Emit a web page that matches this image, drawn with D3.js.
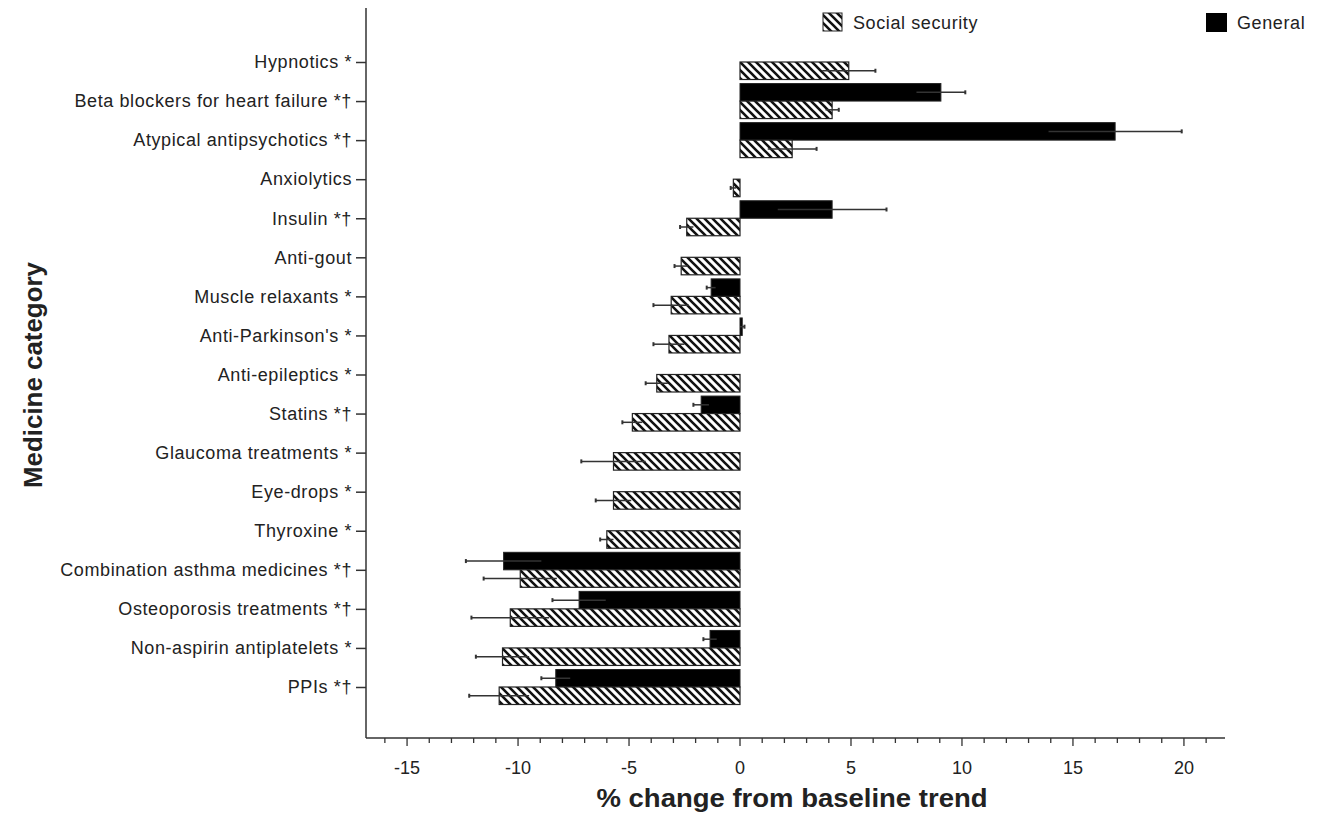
<!DOCTYPE html>
<html>
<head>
<meta charset="utf-8">
<script src="https://cdn.jsdelivr.net/npm/d3@7"></script>
<style>
  body { margin: 0; background: #fff; }
  text { font-family: Arial, "Liberation Sans", sans-serif; fill: #222; }
</style>
</head>
<body>
<div id="chart"></div>
<script>
var categories = [
  "Hypnotics *", "Beta blockers for heart failure *\u2020", "Atypical antipsychotics *\u2020",
  "Anxiolytics", "Insulin *\u2020", "Anti-gout", "Muscle relaxants *", "Anti-Parkinson's *",
  "Anti-epileptics *", "Statins *\u2020", "Glaucoma treatments *", "Eye-drops *", "Thyroxine *",
  "Combination asthma medicines *\u2020", "Osteoporosis treatments *\u2020",
  "Non-aspirin antiplatelets *", "PPIs *\u2020"
];
// general population (null = not shown)
var generalValues = [null, 9.05, 16.9, null, 4.15, null, -1.3, 0.1, null, -1.75, null, null, null, -10.65, -7.25, -1.35, -8.3];
var generalErrors = [null, 1.1, 3.0, null, 2.45, null, 0.2, 0.1, null, 0.35, null, null, null, 1.7, 1.2, 0.3, 0.65];
// social security
var socialValues = [4.9, 4.15, 2.35, -0.3, -2.4, -2.65, -3.1, -3.2, -3.75, -4.85, -5.7, -5.7, -6.0, -9.9, -10.35, -10.7, -10.85];
var socialErrors = [1.2, 0.3, 1.1, 0.12, 0.3, 0.3, 0.8, 0.7, 0.5, 0.45, 1.45, 0.8, 0.3, 1.65, 1.75, 1.2, 1.35];
var xTicks = [-15, -10, -5, 0, 5, 10, 15, 20];

var svgWidth = 1332;
var svgHeight = 813;
var margin = { top: 8, left: 366 };
var width = 859;
var height = 730;
var barH = 17.5;

var svg = d3.select("#chart")
  .append("svg")
  .attr("width", svgWidth)
  .attr("height", svgHeight);

// hatch pattern
var defs = svg.append("defs");
defs.append("pattern")
  .attr("id", "hatch")
  .attr("patternUnits", "userSpaceOnUse")
  .attr("width", 8)
  .attr("height", 8)
  .call(p => {
    p.append("rect").attr("width", 8).attr("height", 8).attr("fill", "#fff");
    p.append("path")
      .attr("d", "M-2,-2 L10,10 M-2,6 L2,10 M6,-2 L10,2")
      .attr("stroke", "#111")
      .attr("stroke-width", 2.6);
  });

var chartGroup = svg.append("g")
  .attr("transform", `translate(${margin.left}, ${margin.top})`);

var x = d3.scaleLinear()
  .domain([-16.85, 21.85])
  .range([0, width]);

var y = d3.scalePoint()
  .domain(categories)
  .range([54, 679]);

// x axis: major + minor ticks
var xAxisG = chartGroup.append("g")
  .attr("transform", `translate(0, ${height})`);
xAxisG.append("line")
  .attr("x1", 0).attr("x2", width)
  .attr("stroke", "#333").attr("stroke-width", 1.5);
xAxisG.selectAll(".minor")
  .data(d3.range(-16, 22))
  .enter().append("line")
  .attr("x1", d => x(d)).attr("x2", d => x(d))
  .attr("y1", 0).attr("y2", d => d % 5 === 0 ? 8 : 5)
  .attr("stroke", "#333").attr("stroke-width", 1.3);
xAxisG.selectAll(".lbl")
  .data(xTicks)
  .enter().append("text")
  .attr("x", d => x(d))
  .attr("y", 36)
  .attr("text-anchor", "middle")
  .style("font-size", "18px")
  .text(d => d);

// y axis
var yAxis = d3.axisLeft(y).tickSize(10).tickPadding(4);
var yAxisG = chartGroup.append("g").call(yAxis);
yAxisG.select(".domain").remove();
yAxisG.selectAll("line").attr("stroke", "#333").attr("stroke-width", 1.5);
yAxisG.selectAll("text")
  .style("font-size", "18px")
  .style("letter-spacing", "0.6px")
  .style("fill", "#222");
chartGroup.append("line")
  .attr("x1", 0).attr("x2", 0)
  .attr("y1", 0).attr("y2", height)
  .attr("stroke", "#333").attr("stroke-width", 1.5);

// bars
var generalData = categories.map((c, i) => ({ c: c, v: generalValues[i], e: generalErrors[i] }))
  .filter(d => d.v !== null);
var socialData = categories.map((c, i) => ({ c: c, v: socialValues[i], e: socialErrors[i] }));

function drawErr(sel, off) {
  sel.append("line")
    .attr("x1", d => x(d.v - d.e)).attr("x2", d => x(d.v + d.e))
    .attr("y1", d => y(d.c) + off).attr("y2", d => y(d.c) + off)
    .attr("stroke", "#333").attr("stroke-width", 1.5);
  sel.append("line")
    .attr("x1", d => x(d.v + Math.sign(d.v) * d.e)).attr("x2", d => x(d.v + Math.sign(d.v) * d.e))
    .attr("y1", d => y(d.c) + off - 2).attr("y2", d => y(d.c) + off + 2)
    .attr("stroke", "#333").attr("stroke-width", 2);
}

var gGen = chartGroup.selectAll(".gen")
  .data(generalData)
  .enter().append("g");
gGen.append("rect")
  .attr("x", d => x(Math.min(0, d.v)))
  .attr("width", d => Math.abs(x(d.v) - x(0)))
  .attr("y", d => y(d.c) - barH)
  .attr("height", barH)
  .attr("fill", "#000")
  .attr("stroke", "#222").attr("stroke-width", 1);
drawErr(gGen, -barH / 2);

var gSoc = chartGroup.selectAll(".soc")
  .data(socialData)
  .enter().append("g");
gSoc.append("rect")
  .attr("x", d => x(Math.min(0, d.v)))
  .attr("width", d => Math.abs(x(d.v) - x(0)))
  .attr("y", d => y(d.c))
  .attr("height", barH)
  .attr("fill", "url(#hatch)")
  .attr("stroke", "#222").attr("stroke-width", 1.2);
drawErr(gSoc, barH / 2);

// axis titles
svg.append("text")
  .attr("x", 792)
  .attr("y", 807)
  .attr("text-anchor", "middle")
  .attr("textLength", 391)
  .attr("lengthAdjust", "spacingAndGlyphs")
  .style("font-size", "25px")
  .style("font-weight", "bold")
  .text("% change from baseline trend");

svg.append("text")
  .attr("transform", "translate(42, 375) rotate(-90)")
  .attr("text-anchor", "middle")
  .attr("textLength", 226)
  .attr("lengthAdjust", "spacingAndGlyphs")
  .style("font-size", "26px")
  .style("font-weight", "bold")
  .text("Medicine category");

// legend
var legend = svg.append("g");
legend.append("rect")
  .attr("x", 823).attr("y", 13).attr("width", 19).attr("height", 18)
  .attr("fill", "url(#hatch)").attr("stroke", "#222");
legend.append("text")
  .attr("x", 853).attr("y", 29)
  .style("font-size", "18px")
  .style("letter-spacing", "0.6px")
  .text("Social security");
legend.append("rect")
  .attr("x", 1206).attr("y", 13).attr("width", 21).attr("height", 19)
  .attr("fill", "#000");
legend.append("text")
  .attr("x", 1237).attr("y", 29)
  .style("font-size", "18px")
  .style("letter-spacing", "0.6px")
  .text("General");
</script>
</body>
</html>
